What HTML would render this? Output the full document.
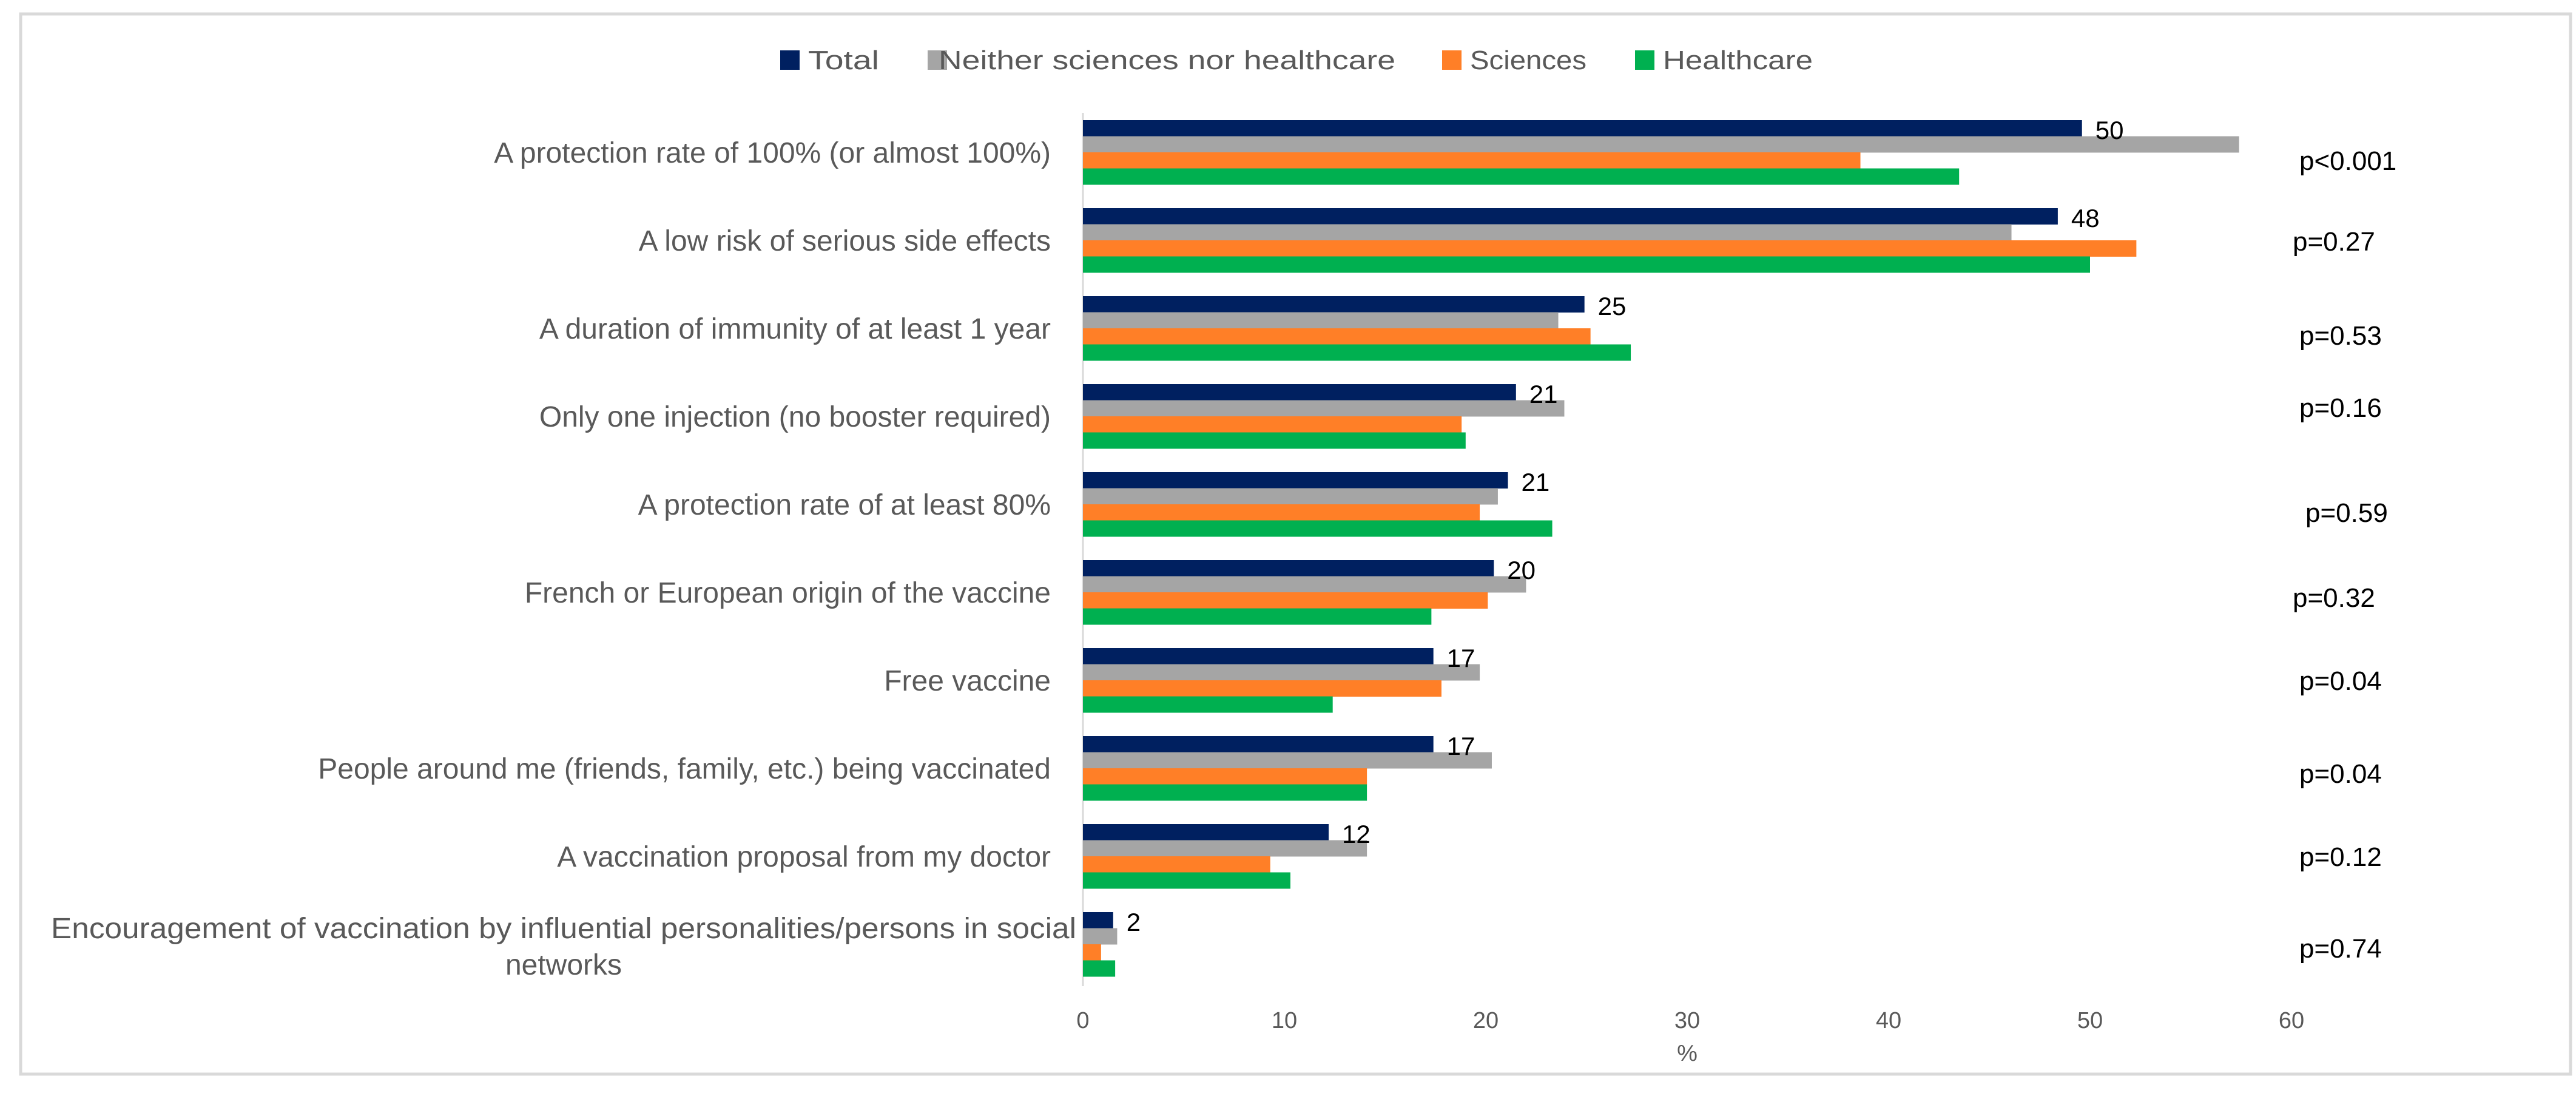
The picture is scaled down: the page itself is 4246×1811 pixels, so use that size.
<!DOCTYPE html>
<html><head><meta charset="utf-8"><style>
html,body{margin:0;padding:0;background:#fff;}
svg{display:block;font-family:"Liberation Sans",sans-serif;}
</style></head><body>
<svg id="chart" width="4246" height="1811" viewBox="0 0 4246 1811" xmlns="http://www.w3.org/2000/svg">
<rect x="34" y="23" width="4203" height="1747" fill="#fff" stroke="#d9d9d9" stroke-width="5"/>
<g id="legend"></g>
<g id="plot"></g>
</svg>
<script>
const categories = [
 ["A protection rate of 100% (or almost 100%)"],
 ["A low risk of serious side effects"],
 ["A duration of immunity of at least 1 year"],
 ["Only one injection (no booster required)"],
 ["A protection rate of at least 80%"],
 ["French or European origin of the vaccine"],
 ["Free vaccine"],
 ["People around me (friends, family, etc.) being vaccinated"],
 ["A vaccination proposal from my doctor"],
 ["Encouragement of vaccination by influential personalities/persons in social","networks"]
];
const totalValues = [49.6, 48.4, 24.9, 21.5, 21.1, 20.4, 17.4, 17.4, 12.2, 1.5];
const neitherValues = [57.4, 46.1, 23.6, 23.9, 20.6, 22.0, 19.7, 20.3, 14.1, 1.7];
const sciencesValues = [38.6, 52.3, 25.2, 18.8, 19.7, 20.1, 17.8, 14.1, 9.3, 0.9];
const healthcareValues = [43.5, 50.0, 27.2, 19.0, 23.3, 17.3, 12.4, 14.1, 10.3, 1.6];
const totalLabels = ["50","48","25","21","21","20","17","17","12","2"];
const pValues = ["p<0.001","p=0.27","p=0.53","p=0.16","p=0.59","p=0.32","p=0.04","p=0.04","p=0.12","p=0.74"];
const xTicks = [0,10,20,30,40,50,60];
const seriesNames = ["Total","Neither sciences nor healthcare","Sciences","Healthcare"];

const colors = ["#002060","#a5a5a5","#ff7f27","#00b050"];
const NS = "http://www.w3.org/2000/svg";
const x0 = 1785, pxPerUnit = 33.2;
function xScale(v){ return x0 + v*pxPerUnit; }
const groupTop = 198, groupPitch = 145, barH = 26.5;
function yGroup(i){ return groupTop + i*groupPitch; }
function mk(tag, attrs, parent){ const e=document.createElementNS(NS,tag); for(const k in attrs) e.setAttribute(k,attrs[k]); parent.appendChild(e); return e; }

const plot = document.getElementById('plot');
const legend = document.getElementById('legend');
const allSeries = [totalValues, neitherValues, sciencesValues, healthcareValues];
const seriesKeys = ["total","neither","sciences","healthcare"];

const axis = mk('line',{x1:x0,y1:yGroup(0)-12,x2:x0,y2:1625,stroke:'#d9d9d9','stroke-width':3},plot);



categories.forEach((lines,i)=>{
  const gy = yGroup(i);
  allSeries.forEach((vals,s)=>{
    const r = mk('rect',{x:x0,y:gy+s*barH,width:Math.max(0,xScale(vals[i])-x0),height:barH+0.5,fill:colors[s]},plot);
    
    
  });
  const cy = gy + 2*barH;
  const t = mk('text',{x:1732,'text-anchor':'end','font-size':48,fill:'#595959'},plot);
  
  
  if(lines.length===1){
    t.setAttribute('y',cy+17);
    t.textContent = lines[0];
  } else {
    t.setAttribute('text-anchor','middle');
    lines.forEach((ln,k)=>{
      const attrs = {x:929,y:cy-10+k*60};
      if(k===0){ attrs.textLength = 1690; attrs.lengthAdjust = 'spacingAndGlyphs'; }
      const ts = mk('tspan',attrs,t);
      ts.textContent = ln;
    });
  }
  const vl = mk('text',{x:xScale(totalValues[i])+22,y:gy+31,'font-size':42,fill:'#000'},plot);
  
  
  vl.textContent = totalLabels[i];
});

const pBase = [280,413,568,687,860,1000,1137,1290,1427,1578];
const pX = [3790,3779,3790,3790,3800,3779,3790,3790,3790,3790];
pValues.forEach((p,i)=>{
  const t = mk('text',{x:pX[i],y:pBase[i],'font-size':44,fill:'#000'},plot);
  
  
  t.textContent = p;
});

xTicks.forEach(v=>{
  const t = mk('text',{x:xScale(v),y:1694,'text-anchor':'middle','font-size':38,fill:'#595959'},plot);
  
  
  t.textContent = v;
});
const xt = mk('text',{x:xScale(30),y:1748,'text-anchor':'middle','font-size':38,fill:'#595959'},plot);


xt.textContent = '%';

const legSq = [1286,1529,2377,2695];
const legTx = [1332,1547,2423,2741];
const legW = [117,753,192,247];
seriesNames.forEach((n,s)=>{
  const r = mk('rect',{x:legSq[s],y:83,width:32,height:32,fill:colors[s]},legend);
  
  
  const t = mk('text',{x:legTx[s],y:114,'font-size':44,fill:'#595959',textLength:legW[s],lengthAdjust:'spacingAndGlyphs'},legend);
  
  
  t.textContent = n;
});
</script>
</body></html>
